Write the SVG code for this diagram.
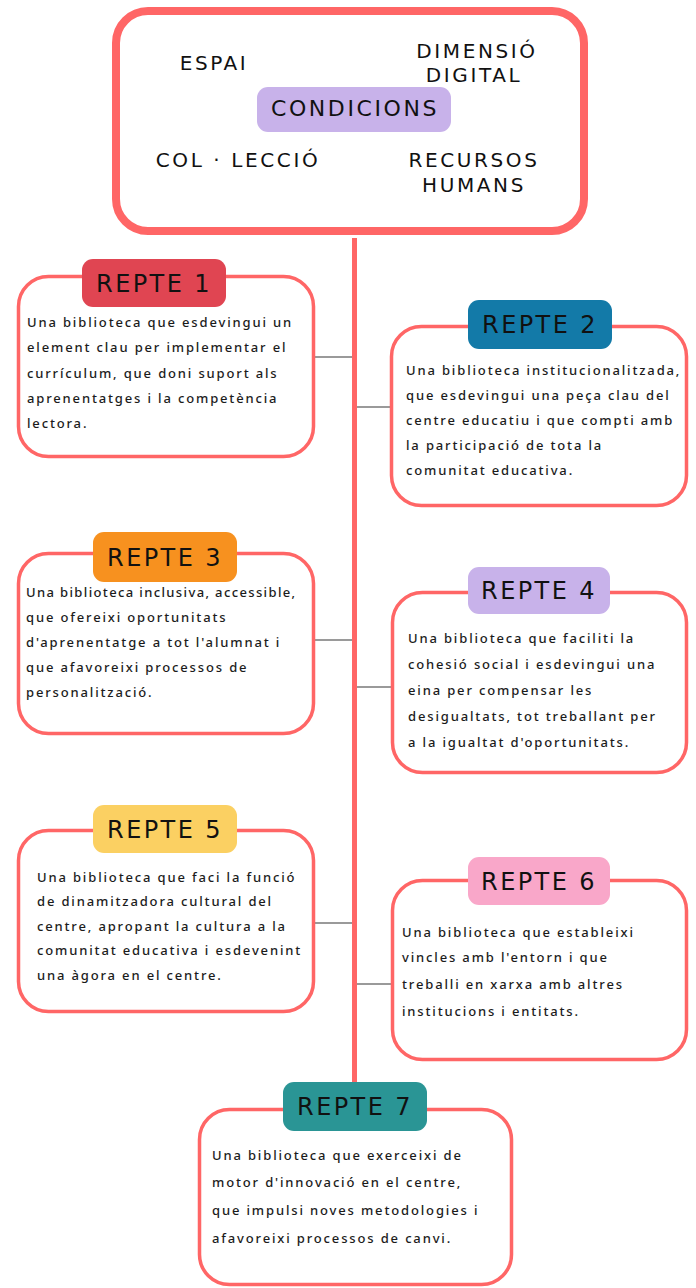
<svg xmlns="http://www.w3.org/2000/svg" width="696" height="1288" viewBox="0 0 696 1288">
<style>
.box{fill:#fff;stroke:#ff6666;stroke-width:3.5}
.pill-t{font-family:"DejaVu Sans",sans-serif;font-size:24px;fill:#111;text-anchor:middle;letter-spacing:2.4px}
.cond{font-family:"DejaVu Sans",sans-serif;font-size:20px;fill:#111;text-anchor:middle;letter-spacing:2.6px}
.body{font-family:"Noto Sans",sans-serif;font-size:13px;font-weight:500;fill:#1c1c1c;letter-spacing:1.85px}
.conn{stroke:#9a9a9a;stroke-width:2;fill:none}
</style>
<rect width="696" height="1288" fill="#fff"/>
<g id="connectors">
<line class="conn" x1="314" y1="357" x2="354" y2="357"/>
<line class="conn" x1="354" y1="407" x2="391" y2="407"/>
<line class="conn" x1="314" y1="640" x2="354" y2="640"/>
<line class="conn" x1="354" y1="687" x2="391" y2="687"/>
<line class="conn" x1="314" y1="923" x2="354" y2="923"/>
<line class="conn" x1="354" y1="984" x2="391" y2="984"/>
<line x1="354.5" y1="238" x2="354.5" y2="1083" stroke="#ff6666" stroke-width="5"/>
</g>
<g id="condicions">
<rect x="116" y="11" width="468" height="220" rx="32" fill="#fff" stroke="#ff6666" stroke-width="8"/>
<text class="cond" x="214" y="70">ESPAI</text>
<text class="cond" x="477" y="58">DIMENSIÓ</text>
<text class="cond" x="474" y="82">DIGITAL</text>
<text class="cond" x="238" y="167">COL · LECCIÓ</text>
<text class="cond" x="474" y="167">RECURSOS</text>
<text class="cond" x="474" y="192">HUMANS</text>
<rect x="257" y="87" width="194" height="45" rx="11" fill="#c8b2ea"/>
<text class="cond" x="355" y="116" style="font-size:22px;letter-spacing:2.6px">CONDICIONS</text>
</g>
<g id="repte1">
<rect class="box" x="18.5" y="276.5" width="295" height="180" rx="30"/>
<rect x="82" y="259" width="144" height="48" rx="11" fill="#e04552"/>
<text class="pill-t" x="154" y="292">REPTE 1</text>
<text class="body" x="27" y="327">Una biblioteca que esdevingui un</text>
<text class="body" x="27" y="352">element clau per implementar el</text>
<text class="body" x="27" y="378">currículum, que doni suport als</text>
<text class="body" x="27" y="403">aprenentatges i la competència</text>
<text class="body" x="27" y="428">lectora.</text>
</g>
<g id="repte2">
<rect class="box" x="391.5" y="326.5" width="295" height="179" rx="30"/>
<rect x="468" y="300" width="144" height="49" rx="11" fill="#137aa8"/>
<text class="pill-t" x="540" y="333">REPTE 2</text>
<text class="body" x="406" y="375">Una biblioteca institucionalitzada,</text>
<text class="body" x="406" y="400">que esdevingui una peça clau del</text>
<text class="body" x="406" y="425">centre educatiu i que compti amb</text>
<text class="body" x="406" y="450">la participació de tota la</text>
<text class="body" x="406" y="475">comunitat educativa.</text>
</g>
<g id="repte3">
<rect class="box" x="18.5" y="553.5" width="295" height="180" rx="30"/>
<rect x="93" y="532" width="144" height="50" rx="11" fill="#f7911f"/>
<text class="pill-t" x="165" y="566">REPTE 3</text>
<text class="body" x="26" y="597" textLength="271" lengthAdjust="spacing">Una biblioteca inclusiva, accessible,</text>
<text class="body" x="26" y="622">que ofereixi oportunitats</text>
<text class="body" x="26" y="647">d'aprenentatge a tot l'alumnat i</text>
<text class="body" x="26" y="672">que afavoreixi processos de</text>
<text class="body" x="26" y="697">personalització.</text>
</g>
<g id="repte4">
<rect class="box" x="392.5" y="592.5" width="294" height="180" rx="30"/>
<rect x="468" y="567" width="142" height="47" rx="11" fill="#c8b2ea"/>
<text class="pill-t" x="539" y="599">REPTE 4</text>
<text class="body" x="408" y="643">Una biblioteca que faciliti la</text>
<text class="body" x="408" y="669">cohesió social i esdevingui una</text>
<text class="body" x="408" y="695">eina per compensar les</text>
<text class="body" x="408" y="721">desigualtats, tot treballant per</text>
<text class="body" x="408" y="747">a la igualtat d'oportunitats.</text>
</g>
<g id="repte5">
<rect class="box" x="18.5" y="830.5" width="295" height="181" rx="30"/>
<rect x="93" y="805" width="144" height="48" rx="11" fill="#fbd062"/>
<text class="pill-t" x="165" y="838">REPTE 5</text>
<text class="body" x="37" y="882">Una biblioteca que faci la funció</text>
<text class="body" x="37" y="906">de dinamitzadora cultural del</text>
<text class="body" x="37" y="931">centre, apropant la cultura a la</text>
<text class="body" x="37" y="955">comunitat educativa i esdevenint</text>
<text class="body" x="37" y="980">una àgora en el centre.</text>
</g>
<g id="repte6">
<rect class="box" x="392.5" y="880.5" width="294" height="179" rx="30"/>
<rect x="468" y="857" width="142" height="48" rx="11" fill="#f9a7c9"/>
<text class="pill-t" x="539" y="890">REPTE 6</text>
<text class="body" x="402" y="937">Una biblioteca que estableixi</text>
<text class="body" x="402" y="962">vincles amb l'entorn i que</text>
<text class="body" x="402" y="989">treballi en xarxa amb altres</text>
<text class="body" x="402" y="1016">institucions i entitats.</text>
</g>
<g id="repte7">
<rect class="box" x="199.5" y="1109.5" width="312" height="175" rx="30"/>
<rect x="283" y="1082" width="144" height="49" rx="11" fill="#2a9595"/>
<text class="pill-t" x="355" y="1115">REPTE 7</text>
<text class="body" x="212" y="1160">Una biblioteca que exerceixi de</text>
<text class="body" x="212" y="1187">motor d'innovació en el centre,</text>
<text class="body" x="212" y="1215">que impulsi noves metodologies i</text>
<text class="body" x="212" y="1243">afavoreixi processos de canvi.</text>
</g>
</svg>
